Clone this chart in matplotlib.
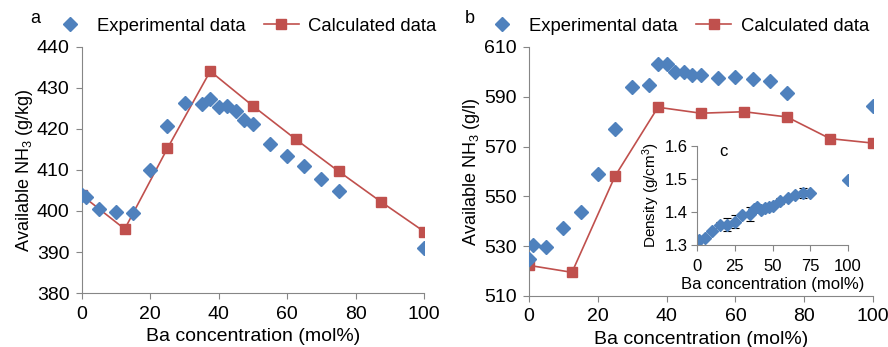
import numpy as np
import matplotlib.pyplot as plt

plt.rcParams['font.family'] = ['Liberation Sans', 'DejaVu Sans']
plt.rcParams['mathtext.default'] = 'regular'

# panel a: available NH3 (g/kg)
xa_exp = [0, 1.3, 5, 10, 15, 20, 25, 30, 35, 37.5, 40, 42.5, 45, 47.5, 50, 55, 60, 65, 70, 75, 100]
ya_exp = [403.9, 403.4, 400.6, 399.8, 399.5, 410.0, 420.8, 426.3, 426.0, 427.4, 425.4, 425.5,
          424.5, 422.2, 421.2, 416.4, 413.3, 411.0, 407.8, 404.8, 390.9]
xa_calc = [0, 12.5, 25, 37.5, 50, 62.5, 75, 87.5, 100]
ya_calc = [403.8, 395.6, 415.3, 434.1, 425.6, 417.5, 409.7, 402.2, 395.0]

# panel b: available NH3 (g/l)
xb_exp = [0, 1.2, 5, 10, 15, 20, 25, 30, 35, 37.5, 40, 42.5, 45, 47.5, 50, 55, 60, 65, 70, 75, 100]
yb_exp = [525.0, 530.3, 529.7, 537.4, 543.7, 559.1, 576.9, 593.8, 594.9, 603.3, 603.3, 599.8,
          600.1, 598.8, 598.6, 597.4, 598.0, 597.1, 596.3, 591.7, 586.3]
xb_calc = [0, 12.5, 25, 37.5, 50, 62.5, 75, 87.5, 100]
yb_calc = [522.3, 519.5, 558.1, 585.8, 583.4, 584.0, 581.9, 573.2, 571.4]

# inset c: density (g/cm3)
xc = [0, 1.5, 5, 10, 15, 20, 25, 30, 35, 37.5, 40, 42.5, 45, 47.5, 50, 55, 60, 65, 70, 75, 100]
yc = [1.298, 1.316, 1.322, 1.343, 1.36, 1.361, 1.37, 1.39, 1.394, 1.409, 1.415, 1.407,
      1.411, 1.415, 1.417, 1.434, 1.443, 1.451, 1.459, 1.459, 1.497]
yc_err = [0, 0, 0, 0, 0.01, 0.02, 0.02, 0, 0.02, 0, 0, 0, 0, 0, 0, 0.01, 0, 0, 0.015, 0, 0]

blue = '#4F81BD'
red = '#C0504D'
gray = '#868686'


def style(ax, fs=14, pad=5):
    for s in ['top', 'right']:
        ax.spines[s].set_visible(False)
    for s in ['left', 'bottom']:
        ax.spines[s].set_color(gray)
    ax.tick_params(colors=gray, labelcolor='black', labelsize=fs, length=4, pad=pad)


fig = plt.figure(figsize=(8.88, 3.47), dpi=100)
ax1 = fig.add_axes([0.0923, 0.1556, 0.3852, 0.709])
ax2 = fig.add_axes([0.5957, 0.147, 0.3874, 0.7176])
ax3 = fig.add_axes([0.785, 0.294, 0.17, 0.285])

for ax, xe, ye, xc_, yc_, lx in [(ax1, xa_exp, ya_exp, xa_calc, ya_calc, -0.108),
                                 (ax2, xb_exp, yb_exp, xb_calc, yb_calc, -0.15)]:
    ax.plot(xc_, yc_, color=red, marker='s', ms=6.5, lw=1.2, label='Calculated data', zorder=2)
    ax.plot(xe, ye, ls='none', color=blue, marker='D', ms=7.5, label='Experimental data', zorder=3)
    style(ax)
    ax.set_xlim(0, 100)
    ax.set_xticks([0, 20, 40, 60, 80, 100])
    ax.set_xlabel('Ba concentration (mol%)', fontsize=14, labelpad=4)
    h, l = ax.get_legend_handles_labels()
    ax.legend(h[::-1], l[::-1], loc='lower left', bbox_to_anchor=(lx, 1.02), ncol=2,
              frameon=False, fontsize=13.3, handlelength=1.9, columnspacing=1.0,
              handletextpad=0.5, borderaxespad=0)

ax1.set_ylim(380, 440)
ax1.set_yticks(np.arange(380, 441, 10))
ax1.set_ylabel('Available NH$_3$ (g/kg)', fontsize=13, labelpad=1)
ax2.set_ylim(510, 610)
ax2.set_yticks(np.arange(510, 611, 20))
ax2.set_ylabel('Available NH$_3$ (g/l)', fontsize=13, labelpad=1)

fig.text(0.034, 0.935, 'a', fontsize=13)
fig.text(0.523, 0.935, 'b', fontsize=13)

ax3.patch.set_alpha(0)
ax3.errorbar(xc, yc, yerr=yc_err, ls='none', color=blue, marker='D', ms=6.5,
             ecolor='black', elinewidth=0.8, capsize=3, capthick=0.8)
style(ax3, fs=12, pad=6)
ax3.set_xlim(0, 100)
ax3.set_xticks([0, 25, 50, 75, 100])
ax3.set_ylim(1.3, 1.6)
ax3.set_yticks([1.3, 1.4, 1.5, 1.6])
ax3.tick_params(axis='y', pad=3)
ax3.set_xlabel('Ba concentration (mol%)', fontsize=12, labelpad=2)
ax3.set_ylabel('Density (g/cm$^3$)', fontsize=11, labelpad=2)
ax3.text(15, 1.57, 'c', fontsize=12)

fig.savefig('out.png', dpi=100)
